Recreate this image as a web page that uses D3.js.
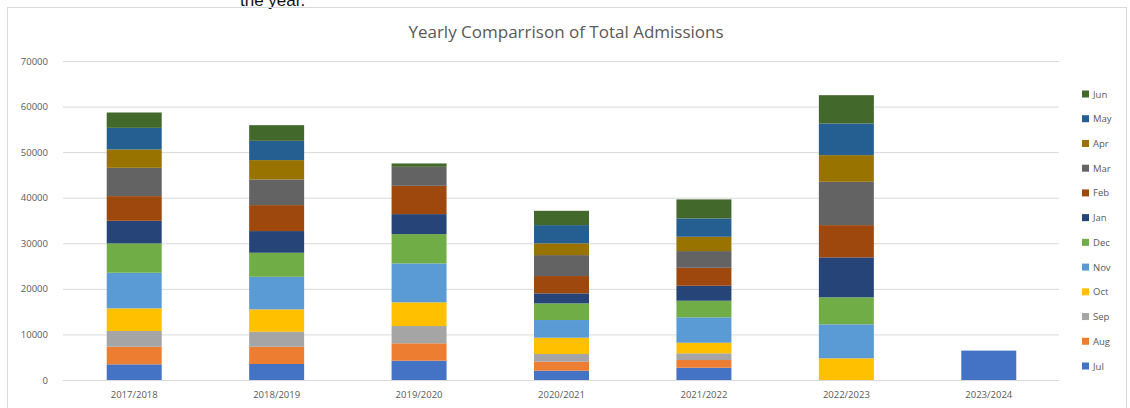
<!DOCTYPE html>
<html><head><meta charset="utf-8">
<script src="https://cdn.jsdelivr.net/npm/d3@7"></script>
<style>body{margin:0;background:#fff;overflow:hidden}</style>
</head><body>
<svg id="c" width="1130" height="408"></svg>
<script>
const years = ["2017/2018","2018/2019","2019/2020","2020/2021","2021/2022","2022/2023","2023/2024"];
const months = ["Jul","Aug","Sep","Oct","Nov","Dec","Jan","Feb","Mar","Apr","May","Jun"];
const jul = [3440,3510,4230,2040,2700,0,6450];
const aug = [3860,3790,3820,1970,1690,0,0];
const sep = [3450,3290,3790,1690,1470,0,0];
const oct = [4970,4910,5200,3580,2320,4760,0];
const nov = [7810,7150,8550,3880,5570,7460,0];
const dec = [6450,5270,6430,3660,3640,5920,0];
const jan = [4950,4760,4380,2190,3290,8770,0];
const feb = [5420,5700,6210,3800,3950,7080,0];
const mar = [6210,5630,4170,4600,3660,9500,0];
const apr = [4030,4240,0,2570,3140,5850,0];
const may = [4740,4230,0,4010,4030,6950,0];
const jun = [3370,3440,740,3140,4170,6210,0];
const yTicks = [0,10000,20000,30000,40000,50000,60000,70000];
const colors = ["#4472C4","#ED7D31","#A5A5A5","#FFC000","#5B9BD5","#70AD47","#264478","#9E480E","#636363","#997300","#255E91","#43682B"];
const title = "Yearly Comparrison of Total Admissions";

const seriesVals = [jul,aug,sep,oct,nov,dec,jan,feb,mar,apr,may,jun];
const rows = years.map((y,i)=>{const r={year:y}; months.forEach((m,j)=>r[m]=seriesVals[j][i]); return r;});

const svg = d3.select("#c");
const font = "'Open Sans', 'Liberation Sans', sans-serif";

// caption cut off at top (as in the reference)
svg.append("text").attr("x",240).attr("y",6).attr("font-family","'Liberation Sans', Arial, sans-serif")
  .attr("font-size",17).attr("fill","#111").text("the year.");

// frame
svg.append("rect").attr("x",7.5).attr("y",7.5).attr("width",1119).attr("height",410)
  .attr("fill","none").attr("stroke","#d9d9d9");

const x = d3.scaleBand().domain(years).range([63,1060]).paddingInner(0.614).paddingOuter(0.307);
const y = d3.scaleLinear().domain([0,70000]).range([380,61]);

// grid
svg.append("g").selectAll("line").data(yTicks).join("line")
  .attr("x1",63).attr("x2",1059).attr("y1",d=>y(d)+0.5).attr("y2",d=>y(d)+0.5)
  .attr("stroke","#d9d9d9").attr("stroke-width",1);

// y axis labels
const ya = svg.append("g").attr("transform","translate(51,0)")
  .call(d3.axisLeft(y).tickValues(yTicks).tickSize(0).tickFormat(d3.format("d")));
ya.select(".domain").remove();
ya.selectAll("text").attr("font-family",font).attr("font-size",9.5).attr("fill","#595959");

// x axis labels
const xa = svg.append("g").attr("transform","translate(0,388)")
  .call(d3.axisBottom(x).tickSize(0));
xa.select(".domain").remove();
xa.selectAll("text").attr("font-family",font).attr("font-size",9.5).attr("fill","#595959");

const stack = d3.stack().keys(months)(rows);
const color = d3.scaleOrdinal().domain(months).range(colors);

svg.append("g").selectAll("g").data(stack).join("g").attr("fill",d=>color(d.key))
  .selectAll("rect").data(d=>d).join("rect")
  .attr("x",d=>x(d.data.year)).attr("width",x.bandwidth())
  .attr("y",d=>y(d[1])).attr("height",d=>y(d[0])-y(d[1]));

// title
svg.append("text").attr("x",566).attr("y",38).attr("text-anchor","middle")
  .attr("font-family",font).attr("font-size",17).attr("fill","#595959").text(title);

// legend
const lg = svg.append("g");
const legendMonths = months.slice().reverse();
const ly = d3.scalePoint().domain(legendMonths).range([94,366]);
const items = lg.selectAll("g").data(legendMonths).join("g")
  .attr("transform",d=>`translate(1082,${ly(d)})`);
items.append("rect").attr("x",0).attr("y",-3.5).attr("width",7).attr("height",7).attr("fill",d=>color(d));
items.append("text").attr("x",11).attr("y",3.5).attr("font-family",font).attr("font-size",9.5)
  .attr("fill","#595959").text(d=>d);
</script>
</body></html>
